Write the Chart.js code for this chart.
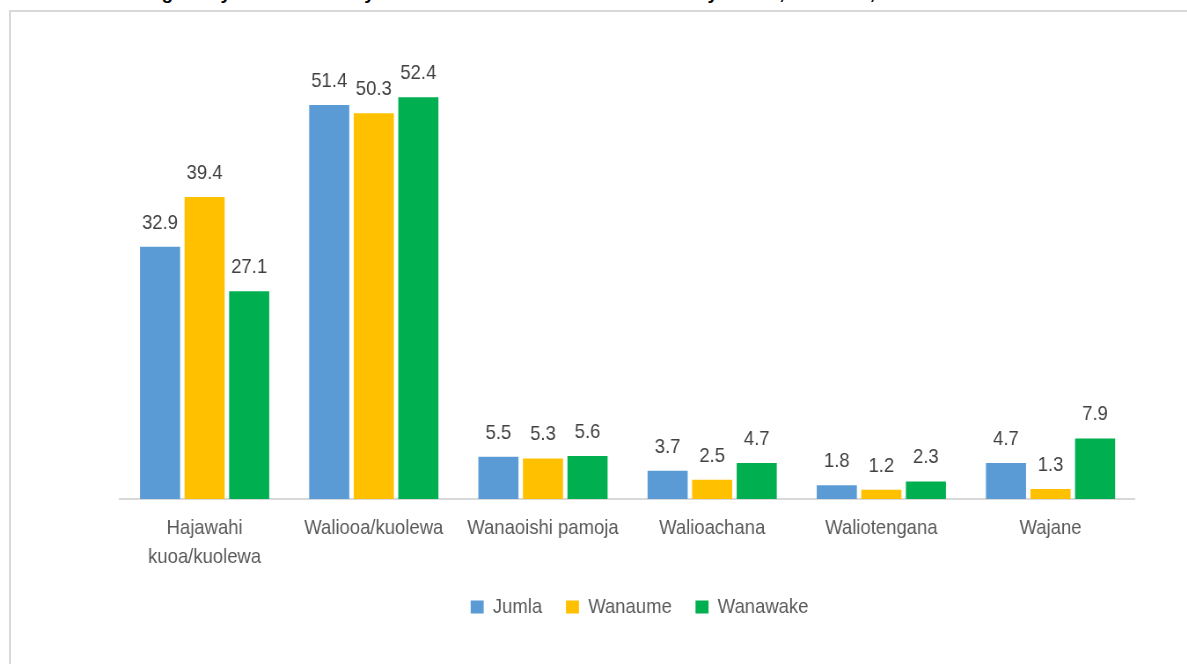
<!DOCTYPE html>
<html>
<head>
<meta charset="utf-8">
<script src="https://cdn.jsdelivr.net/npm/chart.js@4/dist/chart.umd.min.js"></script>
<style>
  body { margin: 0; background: #fff; overflow: hidden; }
  #title { position: absolute; left: 20px; top: -18px; white-space: nowrap;
    font: bold 19px "Liberation Sans", Arial, sans-serif; color: #000; }
  #frame { position: absolute; left: 9px; top: 10px; width: 1200px; height: 700px;
    border: 2px solid #d9d9d9; box-sizing: border-box; }
  /* text in the source is horizontally squeezed, so the whole chart is drawn wider and scaled */
  #wrap { position: absolute; left: 0; top: 0; width: 1349px; height: 664px;
    transform: scaleX(0.88); transform-origin: 0 0; }
</style>
</head>
<body>
<div id="title">Kielelezo 2.5: Mgawanyo wa watu wenye umri wa miaka 12 na zaidi kwa hali ya ndoa, Tanzania, 2022</div>
<div id="frame"></div>
<div id="wrap"><canvas id="myChart"></canvas></div>
<script>
// data
const categories = [["Hajawahi", "kuoa/kuolewa"], "Waliooa/kuolewa", "Wanaoishi pamoja", "Walioachana", "Waliotengana", "Wajane"];
const jumla = [32.9, 51.4, 5.5, 3.7, 1.8, 4.7];
const wanaume = [39.4, 50.3, 5.3, 2.5, 1.2, 1.3];
const wanawake = [27.1, 52.4, 5.6, 4.7, 2.3, 7.9];

const font = "'Liberation Sans', Arial, sans-serif";
const sx = 0.88;

// value labels above bars
const barLabels = {
  id: "barLabels",
  afterDatasetsDraw(chart) {
    const ctx = chart.ctx;
    ctx.save();
    ctx.font = "21px " + font;
    ctx.fillStyle = "#404040";
    ctx.textAlign = "center";
    ctx.textBaseline = "alphabetic";
    chart.data.datasets.forEach((ds, i) => {
      chart.getDatasetMeta(i).data.forEach((bar, j) => {
        ctx.fillText(ds.data[j].toFixed(1), bar.x, bar.y - 18);
      });
    });
    ctx.restore();
  },
};

// move the legend row to its place under the axis labels
const legendShift = {
  id: "legendShift",
  afterLayout(chart) {
    const lg = chart.legend;
    const d = lg.top + 27 + 10.5 - 607;
    lg.top -= d;
    lg.bottom -= d;
    lg.left += 12 / sx;
    lg.right += 12 / sx;
  },
};

const ctx = document.getElementById("myChart");

new Chart(ctx, {
  type: "bar",
  data: {
    labels: categories,
    datasets: [
      { label: "Jumla", data: jumla, backgroundColor: "#5B9BD5" },
      { label: "Wanaume", data: wanaume, backgroundColor: "#FFC000" },
      { label: "Wanawake", data: wanawake, backgroundColor: "#00B050" },
    ],
  },
  options: {
    responsive: true,
    maintainAspectRatio: false,
    animation: false,
    categoryPercentage: 0.79,
    barPercentage: 0.9,
    layout: { padding: { left: 120 / sx, right: 52 / sx, top: 39, bottom: 19 } },
    plugins: {
      tooltip: { enabled: false },
      legend: {
        position: "bottom",
        labels: {
          font: { family: font, size: 21 },
          color: "#595959",
          boxWidth: 13 / sx,
          boxHeight: 13,
          padding: 27,
        },
      },
    },
    scales: {
      x: {
        grid: { display: false, drawTicks: false },
        border: { display: true, color: "#d9d9d9", width: 2 },
        ticks: {
          font: { family: font, size: 21, lineHeight: 1.38 },
          color: "#595959",
          padding: 15,
          maxRotation: 0,
          autoSkip: false,
        },
      },
      y: {
        display: false,
        min: 0,
        max: 60,
      },
    },
  },
  plugins: [barLabels, legendShift],
});
</script>
</body>
</html>
